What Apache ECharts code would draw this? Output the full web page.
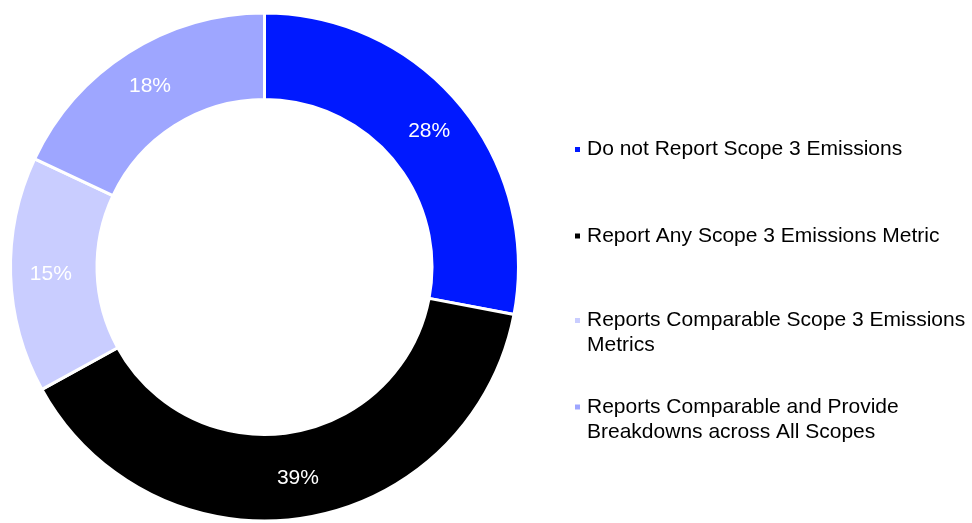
<!DOCTYPE html>
<html>
<head>
<meta charset="utf-8">
<script src="https://cdn.jsdelivr.net/npm/echarts@6/dist/echarts.min.js"></script>
<style>
  html, body { margin: 0; padding: 0; background: #ffffff; }
  #chart { width: 972px; height: 523px; }
</style>
</head>
<body>
<div id="chart"></div>
<script>
// Scope 3 emissions reporting shares (percent)
const categories = [
  'Do not Report Scope 3 Emissions',
  'Report Any Scope 3 Emissions Metric',
  'Reports Comparable Scope 3 Emissions\nMetrics',
  'Reports Comparable and Provide\nBreakdowns across All Scopes'
];
const shares = [28, 39, 15, 18];
const colors = ['#0019FF', '#000000', '#C9CDFF', '#9EA6FF'];

// vertical position of each legend row (icon centre), in px
const legendRows = [149.5, 236, 320.5, 407];

const FONT = '"Liberation Sans", Arial, sans-serif';
const LINE_H = 25;

// one legend per entry so each row can sit at its own height;
// wrapped entries get a blank leading line so the icon lines up with the first line
const legends = categories.map((name, i) => {
  const wraps = name.split('\n').length - 1;
  const rows = 1 + wraps * 2;
  return {
    orient: 'vertical',
    left: 573,
    top: legendRows[i] - (rows * LINE_H) / 2,
    itemWidth: 7,
    itemHeight: 7,
    icon: 'rect',
    selectedMode: false,
    padding: 0,
    data: [name],
    formatter: n => (wraps ? '\n'.repeat(wraps) : '') + n,
    textStyle: {
      fontFamily: FONT,
      fontSize: 21,
      color: '#000000',
      lineHeight: LINE_H,
      padding: [0, 0, 0, 1]
    }
  };
});

const chart = echarts.init(document.getElementById('chart'));
chart.setOption({
  animation: false,
  color: colors,
  legend: legends,
  series: [{
    type: 'pie',
    center: [264.5, 267],
    radius: [167.5, 254],
    startAngle: 90,
    clockwise: true,
    avoidLabelOverlap: false,
    itemStyle: { borderColor: '#ffffff', borderWidth: 3 },
    label: {
      show: true,
      position: 'inside',
      formatter: p => p.value + '%',
      color: '#ffffff',
      fontFamily: FONT,
      fontSize: 21
    },
    labelLine: { show: false },
    emphasis: { disabled: true },
    data: categories.map((name, i) => ({ name, value: shares[i] }))
  }]
});
</script>
</body>
</html>
